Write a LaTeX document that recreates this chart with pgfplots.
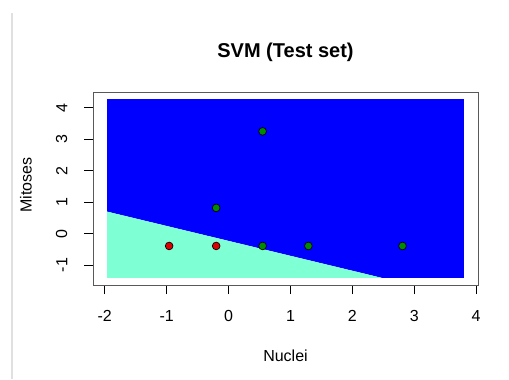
\documentclass[border=0pt]{standalone}
\usepackage{pgfplots}
\pgfplotsset{compat=1.18}
\usepackage{fontspec}
\setmainfont{Liberation Sans}
\definecolor{aqm}{HTML}{7FFFD4}
\definecolor{rblue}{HTML}{0000FF}
\definecolor{rgreen}{HTML}{008B00}
\definecolor{rred}{HTML}{DD0000}
\begin{document}
\begin{tikzpicture}[x=0.75pt,y=0.75pt]
\path[use as bounding box] (0,0) rectangle (509,379);
\draw[black!12, line width=1.2pt] (11.7,0) -- (11.7,366);
\begin{axis}[
  scale only axis, width=288.75pt, height=144.75pt,
  at={(69.75pt,70.5pt)}, anchor=south west,
  xmin=-2.19, xmax=4.03, ymin=-1.63, ymax=4.50,
  xtick={-2,-1,0,1,2,3,4}, ytick={-1,0,1,2,3,4},
  xtick pos=left, ytick pos=left,
  tick align=outside, major tick length=6.75pt,
  tick style={black, line width=0.75pt},
  axis line style={black!65, line width=0.75pt},
  axis on top,
  tick label style={font=\fontsize{12}{14}\selectfont},
  /pgf/number format/assume math mode=true,
  yticklabel style={rotate=90, anchor=south},
  xticklabel shift=9pt,
  yticklabel shift=9pt,
]
\addplot[draw=none, fill=rblue] coordinates {(-1.96,4.27)(3.80,4.27)(3.80,-1.40)(2.47,-1.40)(-1.96,0.70)} -- cycle;
\addplot[draw=none, fill=aqm] coordinates {(-1.96,0.70)(2.47,-1.40)(-1.96,-1.40)} -- cycle;
\addplot[only marks, mark=*, mark size=2.9pt, mark options={draw=black, fill=rred, line width=0.5pt}] coordinates {(-0.96,-0.39)(-0.20,-0.39)};
\addplot[only marks, mark=*, mark size=2.9pt, mark options={draw=black, fill=rgreen, line width=0.5pt}] coordinates {(0.55,3.25)(-0.20,0.82)(0.55,-0.39)(1.29,-0.39)(2.81,-0.39)};
\end{axis}
\node[font=\bfseries\fontsize{15}{17}\selectfont] at (285.5,327) {SVM (Test set)};
\node[font=\fontsize{12}{14}\selectfont] at (285.5,23) {Nuclei};
\node[font=\fontsize{12}{14}\selectfont, rotate=90] at (26,194) {Mitoses};
\end{tikzpicture}
\end{document}
